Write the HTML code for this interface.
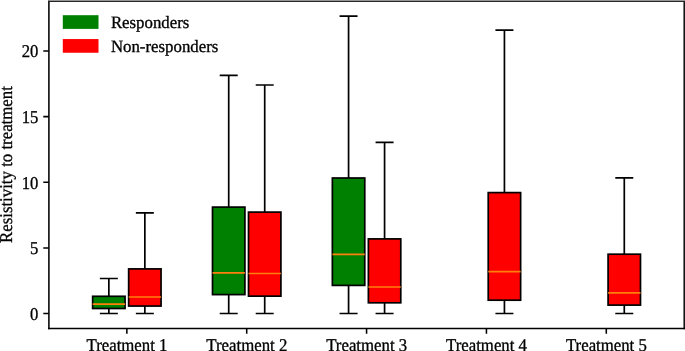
<!DOCTYPE html>
<html><head><meta charset="utf-8"><style>
html,body{margin:0;padding:0;background:#fff;}
body{width:685px;height:351px;overflow:hidden;}
text{stroke:#000;stroke-width:0.32px;}
svg{display:block;font-family:"Liberation Serif",serif;will-change:transform;text-rendering:geometricPrecision;}
</style></head><body>
<svg width="685" height="351" viewBox="0 0 685 351">
<rect width="685" height="351" fill="#fff"/>
<path d="M108.85 296.30V278.50M108.85 308.50V313.50" stroke="#000" stroke-width="1.7" fill="none"/>
<path d="M100.70 278.50H117.00M100.70 313.50H117.00" stroke="#000" stroke-width="1.7" stroke-linecap="square" fill="none"/>
<rect x="92.65" y="296.30" width="32.40" height="12.20" fill="#008000" stroke="#000" stroke-width="1.7"/>
<path d="M92.65 304.10H125.05" stroke="#ff7f0e" stroke-width="1.7"/>
<path d="M144.85 268.90V212.90M144.85 306.05V313.50" stroke="#000" stroke-width="1.7" fill="none"/>
<path d="M136.70 212.90H153.00M136.70 313.50H153.00" stroke="#000" stroke-width="1.7" stroke-linecap="square" fill="none"/>
<rect x="128.65" y="268.90" width="32.40" height="37.15" fill="#ff0000" stroke="#000" stroke-width="1.7"/>
<path d="M128.65 297.00H161.05" stroke="#ff7f0e" stroke-width="1.7"/>
<path d="M228.71 207.10V75.30M228.71 294.60V313.50" stroke="#000" stroke-width="1.7" fill="none"/>
<path d="M220.56 75.30H236.86M220.56 313.50H236.86" stroke="#000" stroke-width="1.7" stroke-linecap="square" fill="none"/>
<rect x="212.51" y="207.10" width="32.40" height="87.50" fill="#008000" stroke="#000" stroke-width="1.7"/>
<path d="M212.51 272.90H244.91" stroke="#ff7f0e" stroke-width="1.7"/>
<path d="M264.71 212.10V85.00M264.71 296.15V313.50" stroke="#000" stroke-width="1.7" fill="none"/>
<path d="M256.56 85.00H272.86M256.56 313.50H272.86" stroke="#000" stroke-width="1.7" stroke-linecap="square" fill="none"/>
<rect x="248.51" y="212.10" width="32.40" height="84.05" fill="#ff0000" stroke="#000" stroke-width="1.7"/>
<path d="M248.51 273.50H280.91" stroke="#ff7f0e" stroke-width="1.7"/>
<path d="M348.57 178.00V16.10M348.57 285.40V313.50" stroke="#000" stroke-width="1.7" fill="none"/>
<path d="M340.42 16.10H356.72M340.42 313.50H356.72" stroke="#000" stroke-width="1.7" stroke-linecap="square" fill="none"/>
<rect x="332.37" y="178.00" width="32.40" height="107.40" fill="#008000" stroke="#000" stroke-width="1.7"/>
<path d="M332.37 254.30H364.77" stroke="#ff7f0e" stroke-width="1.7"/>
<path d="M384.57 238.90V142.30M384.57 302.80V313.50" stroke="#000" stroke-width="1.7" fill="none"/>
<path d="M376.42 142.30H392.72M376.42 313.50H392.72" stroke="#000" stroke-width="1.7" stroke-linecap="square" fill="none"/>
<rect x="368.37" y="238.90" width="32.40" height="63.90" fill="#ff0000" stroke="#000" stroke-width="1.7"/>
<path d="M368.37 287.00H400.77" stroke="#ff7f0e" stroke-width="1.7"/>
<path d="M504.43 192.60V30.20M504.43 300.20V313.50" stroke="#000" stroke-width="1.7" fill="none"/>
<path d="M496.28 30.20H512.58M496.28 313.50H512.58" stroke="#000" stroke-width="1.7" stroke-linecap="square" fill="none"/>
<rect x="488.23" y="192.60" width="32.40" height="107.60" fill="#ff0000" stroke="#000" stroke-width="1.7"/>
<path d="M488.23 271.70H520.63" stroke="#ff7f0e" stroke-width="1.7"/>
<path d="M624.29 254.20V177.90M624.29 305.10V313.50" stroke="#000" stroke-width="1.7" fill="none"/>
<path d="M616.14 177.90H632.44M616.14 313.50H632.44" stroke="#000" stroke-width="1.7" stroke-linecap="square" fill="none"/>
<rect x="608.09" y="254.20" width="32.40" height="50.90" fill="#ff0000" stroke="#000" stroke-width="1.7"/>
<path d="M608.09 292.80H640.49" stroke="#ff7f0e" stroke-width="1.7"/>
<path d="M48.9 0V329.2" stroke="#000" stroke-width="1.55"/>
<path d="M684.2 0V329.2" stroke="#000" stroke-width="1.45"/>
<rect x="48.199999999999996" y="0" width="636.80" height="1" fill="#969696"/>
<rect x="48.199999999999996" y="1" width="636.80" height="1" fill="#262626"/>
<path d="M48.199999999999996 328.5H685" stroke="#000" stroke-width="1.4"/>
<text transform="translate(38.30,320.05) scale(0.925,1)" text-anchor="end" font-size="18">0</text>
<text transform="translate(38.30,254.41) scale(0.925,1)" text-anchor="end" font-size="18">5</text>
<text transform="translate(38.30,188.78) scale(0.925,1)" text-anchor="end" font-size="18">10</text>
<text transform="translate(38.30,123.14) scale(0.925,1)" text-anchor="end" font-size="18">15</text>
<text transform="translate(38.30,56.80) scale(0.925,1)" text-anchor="end" font-size="18">20</text>
<text transform="translate(126.95,351.3) scale(0.932,1)" text-anchor="middle" font-size="18">Treatment 1</text>
<text transform="translate(246.81,351.3) scale(0.932,1)" text-anchor="middle" font-size="18">Treatment 2</text>
<text transform="translate(366.67,351.3) scale(0.932,1)" text-anchor="middle" font-size="18">Treatment 3</text>
<text transform="translate(486.53,351.3) scale(0.932,1)" text-anchor="middle" font-size="18">Treatment 4</text>
<text transform="translate(606.39,351.3) scale(0.932,1)" text-anchor="middle" font-size="18">Treatment 5</text>
<path d="M43.3 313.55H48.9M43.3 247.91H48.9M43.3 182.28H48.9M43.3 116.64H48.9M43.3 51.00H48.9M126.85 328.5V333.7M246.71 328.5V333.7M366.57 328.5V333.7M486.43 328.5V333.7M606.29 328.5V333.7" stroke="#000" stroke-width="1.55"/>
<text transform="translate(11.8,164.55) rotate(-90) scale(0.934,1)" text-anchor="middle" font-size="18">Resistivity to treatment</text>
<rect x="62.8" y="15.2" width="35.7" height="13.7" fill="#008000"/>
<rect x="62.8" y="39.05" width="35.7" height="13.7" fill="#ff0000"/>
<text transform="translate(110.9,27.9) scale(0.973,1)" font-size="17.3">Responders</text>
<text transform="translate(110.9,51.7) scale(0.973,1)" font-size="17.3">Non-responders</text>
</svg>
</body></html>
